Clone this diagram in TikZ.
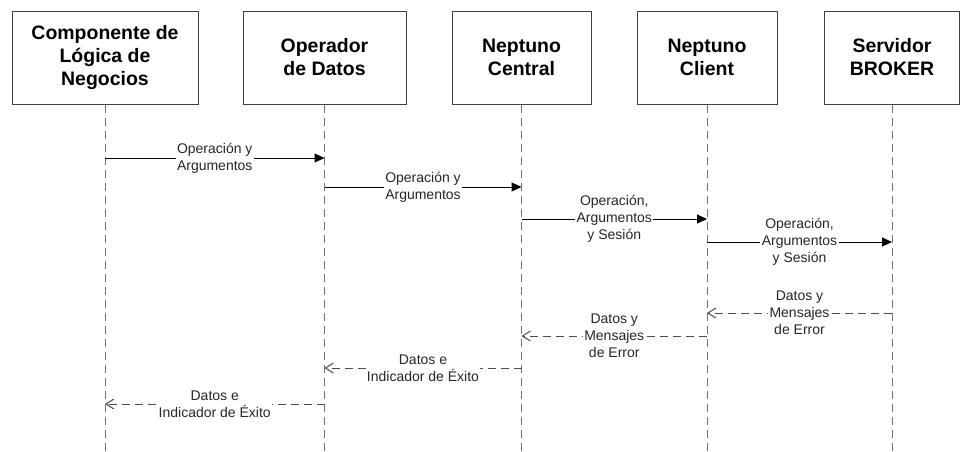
\documentclass[tikz,border=0pt]{standalone}
\usepackage{fontspec}
\setmainfont{Liberation Sans}
\usetikzlibrary{arrows.meta}
\begin{document}
\begin{tikzpicture}[x=0.75pt,y=-0.75pt,
  actor/.style={draw=black!75,line width=0.75pt,rectangle,minimum height=93*0.75pt,inner sep=0pt,
    align=center,font=\bfseries\fontsize{14.6}{17.3}\selectfont},
  lifeline/.style={draw=black!55,line width=0.75pt,dash pattern=on 6pt off 3.75pt},
  callmsg/.style={draw=black,line width=0.75pt,-{Triangle[length=7.5pt,width=6.75pt]}},
  retmsg/.style={draw=black!70,line width=0.75pt,dash pattern=on 6pt off 3.75pt,
    -{Straight Barb[length=6pt,width=7.5pt,line width=0.75pt]}},
  msglabel/.style={fill=white,inner sep=1pt,align=center,text=black!85,
    font=\fontsize{10.5}{12.75}\selectfont}
]
\useasboundingbox (0,0) rectangle (960,451);
% actors
\node[actor,minimum width=186*0.75pt] (b1) at (105,57.5) {Componente de\\Lógica de\\Negocios};
\node[actor,minimum width=163*0.75pt] (b2) at (324.5,57.5) {Operador\\de Datos};
\node[actor,minimum width=139*0.75pt] (b3) at (521.5,57.5) {Neptuno\\Central};
\node[actor,minimum width=140*0.75pt] (b4) at (707,57.5) {Neptuno\\Client};
\node[actor,minimum width=135*0.75pt] (b5) at (892,57.5) {Servidor\\BROKER};
% lifeline ends
\coordinate (e1) at (105,451);
\coordinate (e2) at (324.5,451);
\coordinate (e3) at (521.5,451);
\coordinate (e4) at (707,451);
\coordinate (e5) at (892,451);
\foreach \i in {1,...,5} { \draw[lifeline] (b\i.south) -- (e\i); }
% message points
\coordinate (m1a) at (105,158);   \coordinate (m1b) at (324.5,158);
\coordinate (m2a) at (324.5,187); \coordinate (m2b) at (521.5,187);
\coordinate (m3a) at (521.5,219); \coordinate (m3b) at (707,219);
\coordinate (m4a) at (707,242);   \coordinate (m4b) at (892,242);
\coordinate (m5a) at (892,313);   \coordinate (m5b) at (707,313);
\coordinate (m6a) at (707,336);   \coordinate (m6b) at (521.5,336);
\coordinate (m7a) at (521.5,368); \coordinate (m7b) at (324.5,368);
\coordinate (m8a) at (324.5,404); \coordinate (m8b) at (105,404);
% calls
\draw[callmsg] (m1a) -- node[msglabel] (l1) {Operación y\\Argumentos} (m1b);
\draw[callmsg] (m2a) -- node[msglabel] (l2) {Operación y\\Argumentos} (m2b);
\draw[callmsg] (m3a) -- node[msglabel] (l3) {Operación,\\Argumentos\\y Sesión} (m3b);
\draw[callmsg] (m4a) -- node[msglabel] (l4) {Operación,\\Argumentos\\y Sesión} (m4b);
% returns
\draw[retmsg] (m5a) -- node[msglabel] (l5) {Datos y\\Mensajes\\de Error} (m5b);
\draw[retmsg] (m6a) -- node[msglabel] (l6) {Datos y\\Mensajes\\de Error} (m6b);
\draw[retmsg] (m7a) -- node[msglabel] (l7) {Datos e\\Indicador de Éxito} (m7b);
\draw[retmsg] (m8a) -- node[msglabel] (l8) {Datos e\\Indicador de Éxito} (m8b);
\end{tikzpicture}
\end{document}
